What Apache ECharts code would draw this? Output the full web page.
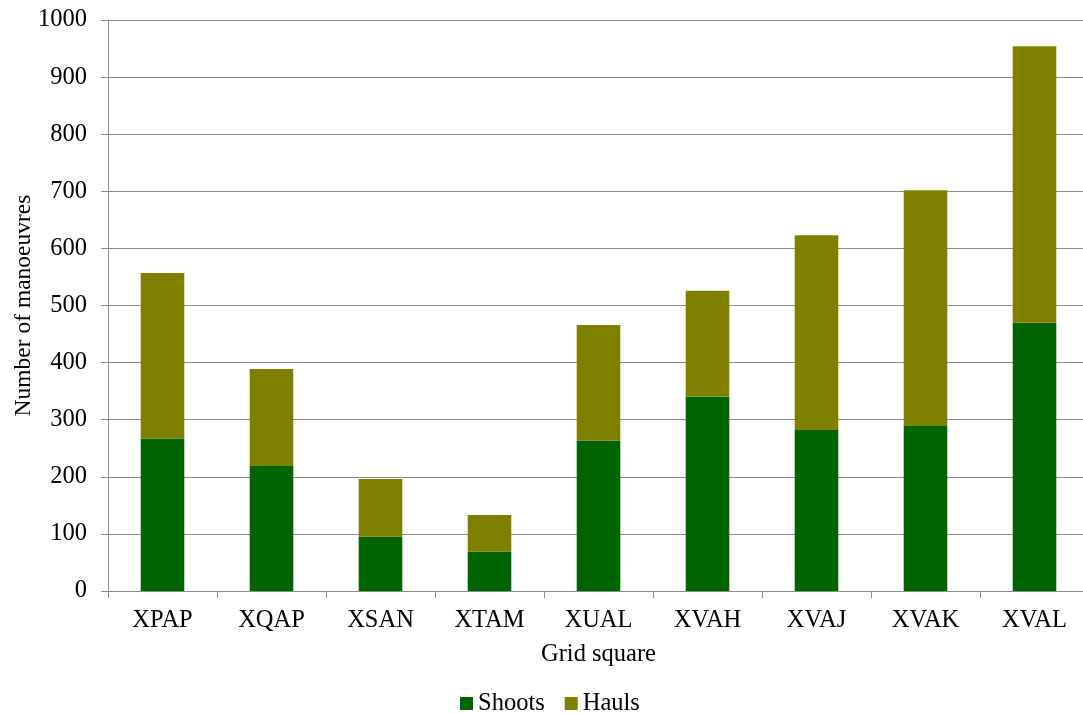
<!DOCTYPE html>
<html>
<head>
<meta charset="utf-8">
<script src="https://cdn.jsdelivr.net/npm/echarts@6/dist/echarts.min.js"></script>
<style>
  html, body { margin: 0; padding: 0; background: #ffffff; }
  #chart { width: 1083px; height: 713px; }
</style>
</head>
<body>
<div id="chart"></div>
<script>
// Fishing manoeuvres per grid square, split into shoots and hauls
const categories = ['XPAP', 'XQAP', 'XSAN', 'XTAM', 'XUAL', 'XVAH', 'XVAJ', 'XVAK', 'XVAL'];
const shoots = [267, 219, 95, 69, 263, 340, 282, 289, 470];
const hauls  = [290, 170, 101, 64, 203, 186, 341, 413, 484];
const yTicks = [0, 100, 200, 300, 400, 500, 600, 700, 800, 900, 1000];

const FONT = '"Liberation Serif", "Times New Roman", serif';
const FONT_SIZE = 24.5;
const AXIS_GREY = '#8c8c8c';

const chart = echarts.init(document.getElementById('chart'), null, { renderer: 'canvas' });

chart.setOption({
  animation: false,
  backgroundColor: '#ffffff',
  textStyle: { fontFamily: FONT, color: '#000000' },
  grid: {
    left: 108, top: 20, width: 981, height: 571,
    containLabel: false,
    outerBoundsMode: 'none'
  },
  legend: {
    top: 686,
    left: 455,
    itemWidth: 13,
    itemHeight: 13,
    itemGap: 20,
    icon: 'rect',
    textStyle: { fontFamily: FONT, fontSize: FONT_SIZE, color: '#000000' },
    data: ['Shoots', 'Hauls']
  },
  xAxis: {
    type: 'category',
    data: categories,
    name: 'Grid square',
    nameLocation: 'middle',
    nameGap: 51,
    nameMoveOverlap: false,
    nameTextStyle: { fontFamily: FONT, fontSize: FONT_SIZE, color: '#000000' },
    axisLine: { lineStyle: { color: AXIS_GREY, width: 1 } },
    axisTick: { show: true, alignWithLabel: false, length: 7, lineStyle: { color: AXIS_GREY } },
    axisLabel: { fontFamily: FONT, fontSize: FONT_SIZE, color: '#000000', margin: 17, interval: 0 }
  },
  yAxis: {
    type: 'value',
    min: yTicks[0],
    max: yTicks[yTicks.length - 1],
    interval: yTicks[1] - yTicks[0],
    name: 'Number of manoeuvres',
    nameLocation: 'middle',
    nameGap: 72,
    nameMoveOverlap: false,
    nameRotate: 90,
    nameTextStyle: { fontFamily: FONT, fontSize: 23.5, color: '#000000' },
    axisLine: { show: true, lineStyle: { color: AXIS_GREY, width: 1 } },
    axisTick: { show: true, length: 7, lineStyle: { color: AXIS_GREY } },
    axisLabel: {
      fontFamily: FONT, fontSize: FONT_SIZE, color: '#000000', margin: 21,
      formatter: (v) => String(v)
    },
    splitLine: { show: true, lineStyle: { color: AXIS_GREY, width: 1 } }
  },
  series: [
    {
      name: 'Shoots',
      type: 'bar',
      stack: 'total',
      data: shoots,
      barWidth: '40%',
      itemStyle: { color: '#006400' }
    },
    {
      name: 'Hauls',
      type: 'bar',
      stack: 'total',
      data: hauls,
      barWidth: '40%',
      itemStyle: { color: '#808000' }
    }
  ]
});
</script>
</body>
</html>
